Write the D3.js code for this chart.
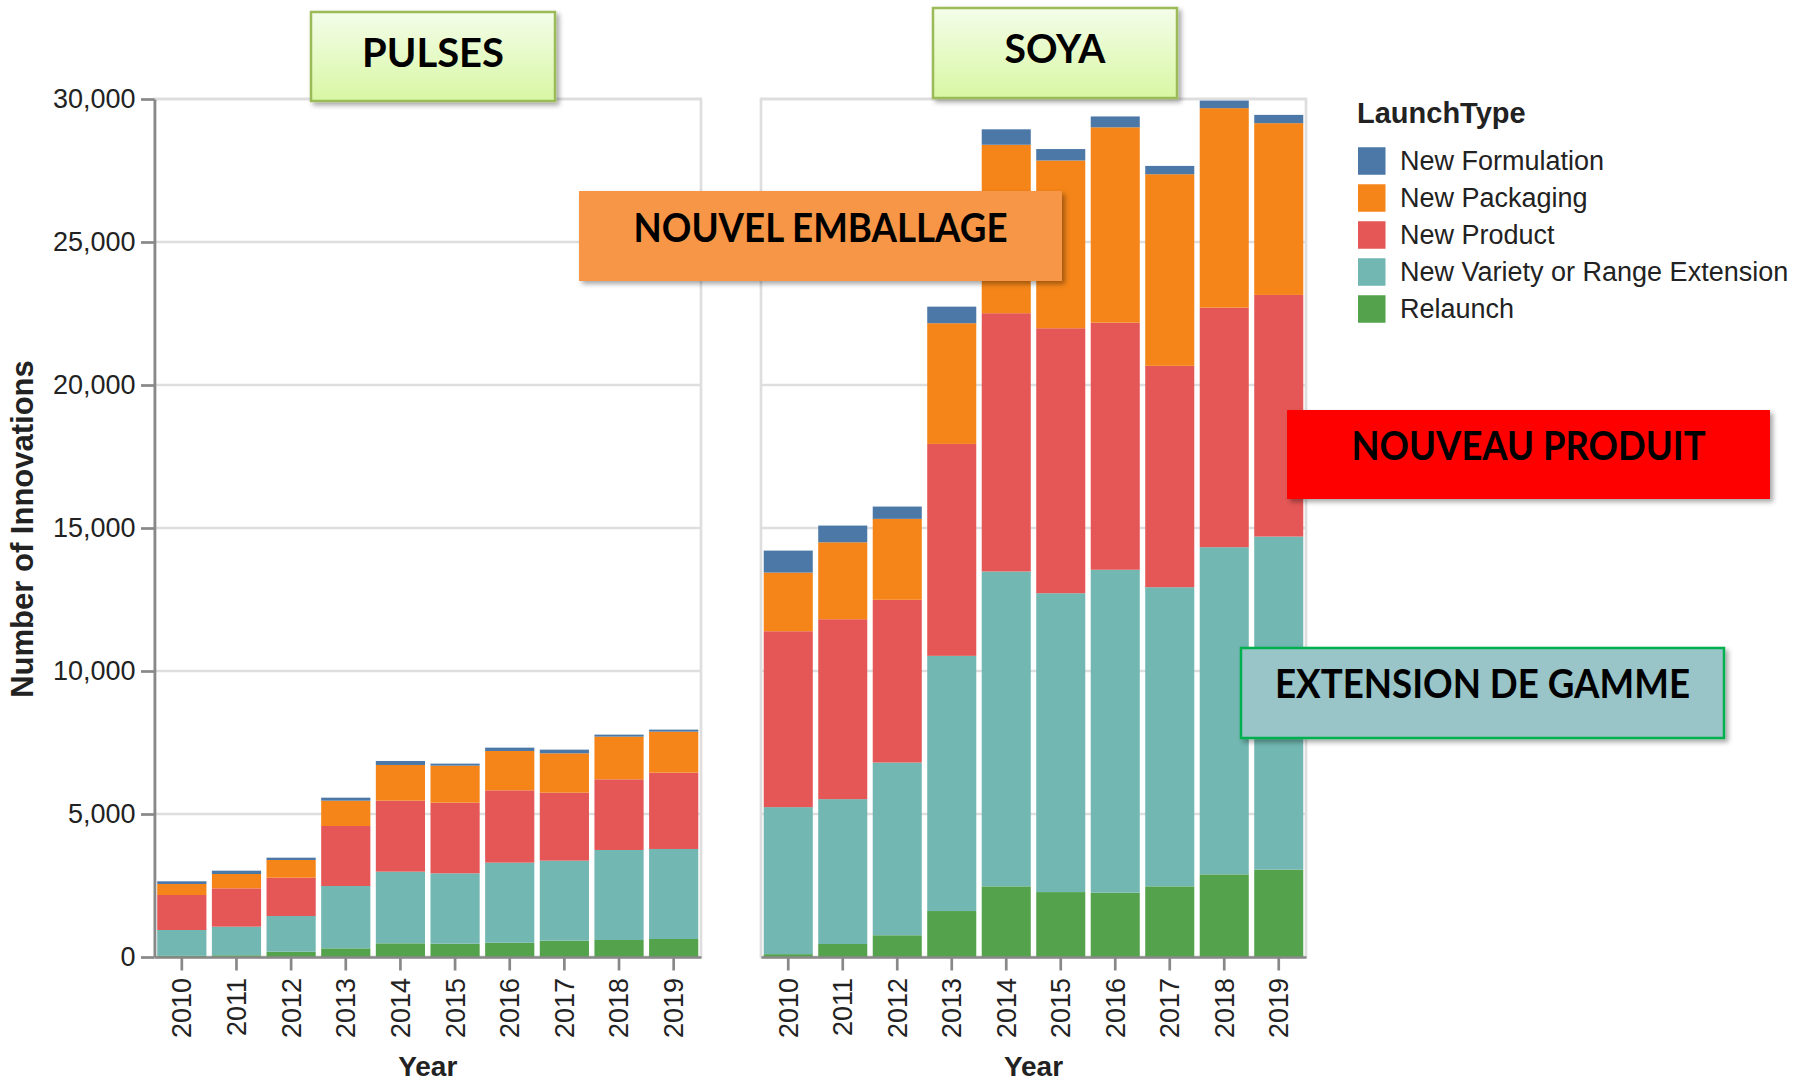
<!DOCTYPE html>
<html>
<head>
<meta charset="utf-8">
<script src="https://cdn.jsdelivr.net/npm/d3@7"></script>
<style>
  body { margin: 0; background: #fff; }
  svg { display: block; font-family: "Liberation Sans", Arial, sans-serif; }
</style>
</head>
<body>
<script>
const years = ['2010', '2011', '2012', '2013', '2014', '2015', '2016', '2017', '2018', '2019'];
const launchTypes = ['New Formulation', 'New Packaging', 'New Product', 'New Variety or Range Extension', 'Relaunch'];
const typeColors = ['#4c78a8', '#f58518', '#e45756', '#72b7b2', '#54a24b'];
const yTicks = [0, 5000, 10000, 15000, 20000, 25000, 30000];

// pulses, one value per year
const pulsesFormulation = [94, 116, 81, 105, 140, 70, 116, 128, 70, 70];
const pulsesPackaging   = [385, 500, 619, 885, 1248, 1294, 1376, 1376, 1492, 1434];
const pulsesProduct     = [1224, 1342, 1339, 2098, 2482, 2471, 2529, 2377, 2471, 2669];
const pulsesVariety     = [904, 1000, 1248, 2180, 2506, 2460, 2798, 2798, 3148, 3148];
const pulsesRelaunch    = [40, 60, 186, 303, 478, 466, 501, 571, 594, 629];

// soya
const soyaFormulation = [770, 585, 430, 580, 540, 400, 380, 290, 265, 290];
const soyaPackaging   = [2050, 2690, 2830, 4220, 5890, 5865, 6830, 6700, 6974, 6005];
const soyaProduct     = [6150, 6290, 5690, 7410, 9030, 9265, 8640, 7740, 8376, 8450];
const soyaVariety     = [5140, 5065, 6040, 8923, 11010, 10450, 11290, 10460, 11440, 11645];
const soyaRelaunch    = [100, 455, 760, 1607, 2470, 2270, 2250, 2470, 2890, 3055];

function makeRows(f, pk, pr, v, r) {
  return years.map((yr, i) => ({
    Year: yr,
    'New Formulation': f[i],
    'New Packaging': pk[i],
    'New Product': pr[i],
    'New Variety or Range Extension': v[i],
    'Relaunch': r[i]
  }));
}
const pulsesRows = makeRows(pulsesFormulation, pulsesPackaging, pulsesProduct, pulsesVariety, pulsesRelaunch);
const soyaRows = makeRows(soyaFormulation, soyaPackaging, soyaProduct, soyaVariety, soyaRelaunch);

const W = 1795, H = 1084;
const sw = 2.7; // line width of the upscaled chart
const labelFont = '"Liberation Sans", Arial, sans-serif';

const svg = d3.select('body').append('svg')
  .attr('width', W)
  .attr('height', H);

const defs = svg.append('defs');
const lime = defs.append('linearGradient')
  .attr('id', 'lime')
  .attr('x1', 0).attr('y1', 0).attr('x2', 0).attr('y2', 1);
lime.append('stop').attr('offset', 0).attr('stop-color', '#f4fdea');
lime.append('stop').attr('offset', 1).attr('stop-color', '#d8f7a3');
defs.append('filter')
  .attr('id', 'shadow')
  .attr('x', '-10%').attr('y', '-20%').attr('width', '130%').attr('height', '150%')
  .append('feDropShadow')
  .attr('dx', 3).attr('dy', 3).attr('stdDeviation', 2.5)
  .attr('flood-color', '#000').attr('flood-opacity', 0.35);

const color = d3.scaleOrdinal().domain(launchTypes).range(typeColors);
const y = d3.scaleLinear().domain([0, 30000]).range([957, 99]);

// bottom-to-top stacking order
const stack = d3.stack().keys(launchTypes.slice().reverse());

const panels = [
  { rows: pulsesRows, x0: 154.5, x1: 701, yAxis: true },
  { rows: soyaRows, x0: 761, x1: 1306, yAxis: false }
];

function styleAxis(g) {
  g.attr('font-size', 27).attr('font-family', labelFont);
  g.select('.domain').attr('stroke', '#888').attr('stroke-width', sw);
  g.selectAll('.tick line').attr('stroke', '#888').attr('stroke-width', sw);
  g.selectAll('.tick text').attr('fill', '#222');
}

panels.forEach(p => {
  const x = d3.scaleBand()
    .domain(years)
    .range([p.x0, p.x1])
    .paddingInner(0.1)
    .paddingOuter(0.05);

  const g = svg.append('g');

  g.append('g')
    .selectAll('line')
    .data(yTicks)
    .enter()
    .append('line')
    .attr('x1', p.x0)
    .attr('x2', p.x1)
    .attr('y1', d => y(d))
    .attr('y2', d => y(d))
    .attr('stroke', '#dedede')
    .attr('stroke-width', sw);

  g.append('rect')
    .attr('x', p.x0)
    .attr('y', y(30000))
    .attr('width', p.x1 - p.x0)
    .attr('height', y(0) - y(30000))
    .attr('fill', 'none')
    .attr('stroke', '#dedede')
    .attr('stroke-width', sw);

  g.append('g')
    .selectAll('g')
    .data(stack(p.rows))
    .enter()
    .append('g')
    .attr('fill', d => color(d.key))
    .selectAll('rect')
    .data(d => d)
    .enter()
    .append('rect')
    .attr('x', d => x(d.data.Year))
    .attr('width', x.bandwidth())
    .attr('y', d => y(d[1]))
    .attr('height', d => y(d[0]) - y(d[1]));

  const xa = g.append('g')
    .attr('transform', `translate(0,${y(0)})`)
    .call(d3.axisBottom(x).tickSize(13.5).tickSizeOuter(0));
  styleAxis(xa);
  xa.selectAll('.tick text')
    .attr('transform', 'rotate(-90)')
    .attr('x', -21)
    .attr('y', 0)
    .attr('dy', '0.35em')
    .style('text-anchor', 'end');

  if (p.yAxis) {
    const ya = g.append('g')
      .attr('transform', `translate(${p.x0},0)`)
      .call(d3.axisLeft(y).tickValues(yTicks).tickFormat(d3.format(',')).tickSize(13.5).tickPadding(5.4).tickSizeOuter(0));
    styleAxis(ya);
  }

  g.append('text')
    .attr('x', (p.x0 + p.x1) / 2)
    .attr('y', 1076)
    .attr('text-anchor', 'middle')
    .attr('font-size', 28)
    .attr('font-weight', 'bold')
    .attr('fill', '#222')
    .text('Year');
});

svg.append('text')
  .attr('transform', 'translate(33,529) rotate(-90)')
  .attr('text-anchor', 'middle')
  .attr('font-size', 31)
  .attr('font-weight', 'bold')
  .attr('fill', '#222')
  .text('Number of Innovations');

// legend
const legend = svg.append('g').attr('transform', 'translate(1357,0)');
legend.append('text')
  .attr('x', 0)
  .attr('y', 123)
  .attr('font-size', 29)
  .attr('font-weight', 'bold')
  .attr('fill', '#222')
  .text('LaunchType');
const entry = legend.selectAll('.entry')
  .data(launchTypes)
  .enter()
  .append('g')
  .attr('class', 'entry')
  .attr('transform', (d, i) => `translate(0,${161 + i * 37})`);
entry.append('rect')
  .attr('x', 1)
  .attr('y', -13.75)
  .attr('width', 27.5)
  .attr('height', 27.5)
  .attr('fill', d => color(d));
entry.append('text')
  .attr('x', 43)
  .attr('dy', '0.35em')
  .attr('font-size', 27)
  .attr('fill', '#222')
  .text(d => d);

// callout boxes pasted over the chart
const notes = [
  { text: 'PULSES', x: 311, y: 12, w: 244, h: 89, fill: 'url(#lime)', stroke: '#9bbb59', tw: 142, base: 54.5 },
  { text: 'SOYA', x: 933, y: 8, w: 244, h: 90, fill: 'url(#lime)', stroke: '#9bbb59', tw: 101, base: 54.7 },
  { text: 'NOUVEL EMBALLAGE', x: 579, y: 191, w: 483, h: 90, fill: '#f79646', stroke: 'none', tw: 374, base: 50.7 },
  { text: 'NOUVEAU PRODUIT', x: 1287, y: 410, w: 483, h: 89, fill: '#ff0000', stroke: 'none', tw: 354, base: 50 },
  { text: 'EXTENSION DE GAMME', x: 1241, y: 648, w: 483, h: 90, fill: '#99c4c8', stroke: '#00b050', tw: 415, base: 50.3 }
];
const note = svg.append('g')
  .selectAll('g')
  .data(notes)
  .enter()
  .append('g')
  .attr('transform', d => `translate(${d.x},${d.y})`);
note.append('rect')
  .attr('width', d => d.w)
  .attr('height', d => d.h)
  .attr('fill', d => d.fill)
  .attr('stroke', d => d.stroke)
  .attr('stroke-width', 2.5)
  .attr('filter', 'url(#shadow)');
note.append('text')
  .attr('x', d => d.w / 2)
  .attr('y', d => d.base)
  .attr('text-anchor', 'middle')
  .attr('font-family', 'Lato, "Open Sans", sans-serif')
  .attr('font-weight', 700)
  .attr('font-size', 40)
  .attr('fill', '#000')
  .attr('textLength', d => d.tw)
  .attr('lengthAdjust', 'spacingAndGlyphs')
  .text(d => d.text);
</script>
</body>
</html>
